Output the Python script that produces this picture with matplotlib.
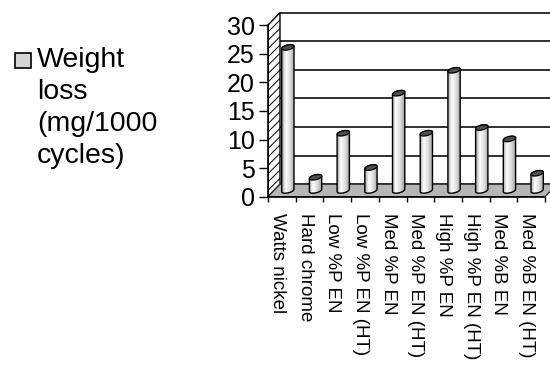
import numpy as np
import matplotlib.pyplot as plt
import matplotlib.transforms as mtransforms
from matplotlib.patches import Polygon, Rectangle
from matplotlib.colors import LinearSegmentedColormap

categories = ['Watts nickel', 'Hard chrome', 'Low %P EN', 'Low %P EN (HT)',
              'Med %P EN', 'Med %P EN (HT)', 'High %P EN', 'High %P EN (HT)',
              'Med %B EN', 'Med %B EN (HT)']
weight_loss = [25, 2.3, 10, 4, 17, 10, 21, 11, 9, 3]
y_ticks = [0, 5, 10, 15, 20, 25, 30]
series_label = 'Weight\nloss\n(mg/1000\ncycles)'

plt.rcParams['font.family'] = ['Liberation Sans', 'DejaVu Sans']
plt.rcParams['hatch.linewidth'] = 0.7
plt.rcParams['hatch.color'] = '#606060'

W, H = 550, 365
fig = plt.figure(figsize=(W / 100, H / 100), dpi=100)

# plot area, measured in pixels from the top-left corner
left_px, right_px, zero_px, top_px = 268, 550, 196.7, 6
cat_px = 27.7    # one category
unit_px = 5.72   # one mg
ax = fig.add_axes([left_px / W, (H - zero_px) / H,
                   (right_px - left_px) / W, (zero_px - top_px) / H])

px = 1 / cat_px
py = 1 / unit_px
dx, dy = 12 * px, 12.5 * py      # depth of the 3-D box
n = len(categories)
ytop = y_ticks[-1]

# back wall + gridlines
ax.add_patch(Rectangle((dx, dy), n, ytop, facecolor='white', edgecolor='none', zorder=1))
for v in y_ticks:
    ax.plot([dx, n + dx], [v + dy, v + dy], color='#303030', lw=1.4, zorder=2,
            solid_capstyle='butt')

# hatched side wall and grey floor
ax.add_patch(Polygon([(0, 0), (0, ytop), (dx, ytop + dy), (dx, dy)], closed=True,
                     facecolor='white', edgecolor='black', hatch='////', lw=1.0, zorder=3))
ax.add_patch(Polygon([(0, 0), (n, 0), (n + dx, dy), (dx, dy)], closed=True,
                     facecolor='#b6b6b6', edgecolor='#303030', lw=1.0, zorder=3))

# cylinders
cyl_cmap = LinearSegmentedColormap.from_list(
    'cyl', [(0, '#a8a8a8'), (0.3, '#ffffff'), (0.65, '#dcdcdc'), (1, '#9c9c9c')])
grad = np.linspace(0, 1, 64).reshape(1, -1)
r = 5.5                       # radius in pixels
t0 = np.arctan(0.5)
half = np.linspace(0, np.pi, 30)

def ring(t):
    return r * (np.cos(t) + 0.5 * np.sin(t)) * px, 0.5 * r * np.sin(t) * py

for i, v in enumerate(weight_loss):
    cx = i + 0.5 + dx / 2
    base, top = dy / 2, v + dy / 2
    lx, ly = ring(t0 + np.pi + half)     # front half of the bottom rim
    ux, uy = ring(t0 + half)             # back half of the top rim
    body = np.column_stack([np.r_[cx + lx, cx + ux], np.r_[base + ly, top + uy]])
    outline = Polygon(body, closed=True, facecolor='none', edgecolor='black',
                      lw=1.0, zorder=5)
    ax.add_patch(outline)
    hw = 1.12 * r * px
    im = ax.imshow(grad, extent=[cx - hw, cx + hw, base - r * py, top + r * py],
                   cmap=cyl_cmap, aspect='auto', interpolation='bilinear', zorder=4)
    im.set_clip_path(outline)
    ex, ey = ring(np.linspace(0, 2 * np.pi, 60))
    ax.add_patch(Polygon(np.column_stack([cx + ex, top + ey]), closed=True,
                         facecolor='#505050', edgecolor='black', lw=0.9, zorder=6))

ax.set_xlim(0, (right_px - left_px) / cat_px)
ax.set_ylim(0, (zero_px - top_px) / unit_px)

for side in ['top', 'right']:
    ax.spines[side].set_visible(False)
ax.spines['left'].set_bounds(0, ytop)
ax.spines['bottom'].set_bounds(0, n)
for side in ['left', 'bottom']:
    ax.spines[side].set_linewidth(1.2)
    ax.spines[side].set_zorder(7)

ax.set_yticks(y_ticks)
ax.tick_params(axis='y', direction='out', length=6.5, width=1, labelsize=18, pad=3)
ax.set_xticks(range(n + 1))
ax.set_xticklabels([])
ax.tick_params(axis='x', which='major', direction='out', length=3.5, width=1)
ax.set_xticks(np.arange(n) + 0.5, minor=True)
ax.set_xticklabels(categories, minor=True, rotation=-90, fontsize=13.5)
ax.tick_params(axis='x', which='minor', length=0, pad=11.5)
shift = mtransforms.ScaledTranslation(-4.5 / 100, 0, fig.dpi_scale_trans)
for lbl in ax.get_xticklabels(minor=True):
    lbl.set_transform(lbl.get_transform() + shift)

# legend key: swatch beside the first line of the label
fig.patches.append(Rectangle((15 / W, 1 - 68 / H), 16 / W, 15 / H, transform=fig.transFigure,
                             facecolor='#d4d4d4', edgecolor='black', lw=1.2))
fig.text(37 / W, 1 - 47 / H, series_label, ha='left', va='top', fontsize=20.5,
         linespacing=1.3)

fig.savefig('out.png', dpi=100)
